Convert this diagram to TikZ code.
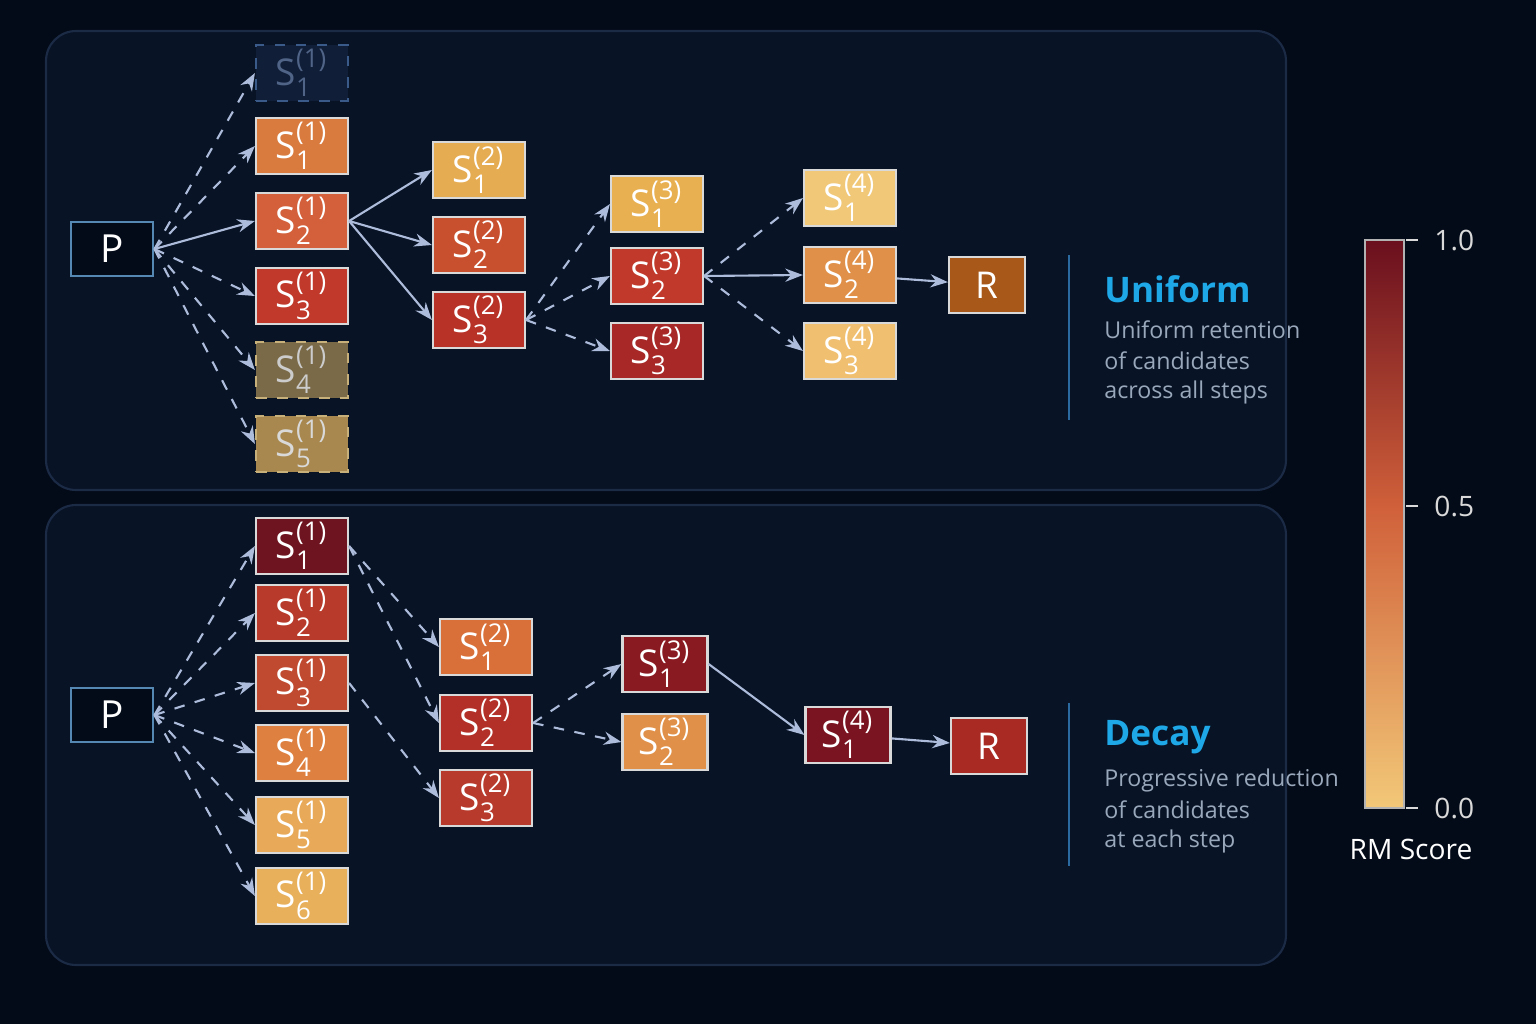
\documentclass[tikz,border=0pt]{standalone}
\usepackage{amsmath}
\usepackage{fontspec}
\setmainfont{Open Sans}
\usetikzlibrary{arrows.meta}
\usetikzlibrary{positioning}

\definecolor{bgc}{HTML}{040B18}
\definecolor{panelc}{HTML}{081326}
\definecolor{panelb}{HTML}{1B2A45}
\definecolor{arrc}{HTML}{AEBCDB}
\definecolor{accent}{HTML}{1EA8E8}
\definecolor{greyt}{HTML}{9AA8BC}
\definecolor{sepc}{HTML}{2A6AA0}
\definecolor{ghostb}{HTML}{3A5A8A}
\definecolor{ghostf}{HTML}{101E38}
\definecolor{ghostt}{HTML}{506487}
\definecolor{tanb}{HTML}{C8B07A}

\newcommand{\stp}[2]{S$^{\textrm{(#1)}}_{\textrm{#2}}$}

\tikzset{
  box/.style={draw=white!85!black, line width=0.6pt, minimum width=0.92cm,
    minimum height=0.56cm, inner sep=0pt, text=white, font=\fontsize{10.5}{12}\selectfont},
  pnode/.style={draw=sepc!80!white, fill=bgc, line width=0.8pt, minimum width=0.82cm,
    minimum height=0.54cm, text=white, font=\fontsize{11}{13}\selectfont},
  ghost/.style={box, dashed, draw=#1},
  panel/.style={fill=panelc, draw=panelb, rounded corners=0.3cm, line width=0.6pt},
  go/.style={-{Stealth[length=5pt]}, draw=arrc, line width=0.6pt},
  maybe/.style={go, dashed},
  title/.style={anchor=west, text=accent, font=\normalsize\bfseries},
  note/.style={anchor=west, text=greyt, font=\fontsize{6.6}{8}\selectfont}
}

\begin{document}
\begin{tikzpicture}[x=0.01cm, y=-0.01cm]
  \useasboundingbox (0,0) rectangle (1536,1024);
  \fill[bgc] (0,0) rectangle (1536,1024);

  % panels
  \draw[panel] (46,31) rectangle (1286,490);
  \draw[panel] (46,505) rectangle (1286,965);

  % uniform
  \node[pnode] (pa) at (112,249) {P};
  \node[ghost=ghostb, fill=ghostf, text=ghostt] (a10) at (302,73) {\stp{1}{1}};
  \node[box, fill={rgb,255:red,217;green,122;blue,62}] (a11) at (302,146) {\stp{1}{1}};
  \node[box, fill={rgb,255:red,211;green,96;blue,58}] (a12) at (302,221) {\stp{1}{2}};
  \node[box, fill={rgb,255:red,192;green,57;blue,43}] (a13) at (302,296) {\stp{1}{3}};
  \node[ghost=tanb, fill={rgb,255:red,122;green,106;blue,72}, text=white!80!black] (a14) at (302,370) {\stp{1}{4}};
  \node[ghost=tanb, fill={rgb,255:red,168;green,136;blue,78}, text=white!85!black] (a15) at (302,444) {\stp{1}{5}};
  \node[box, fill={rgb,255:red,230;green,172;blue,82}] (a21) at (479,170) {\stp{2}{1}};
  \node[box, fill={rgb,255:red,201;green,80;blue,46}] (a22) at (479,245) {\stp{2}{2}};
  \node[box, fill={rgb,255:red,184;green,50;blue,40}] (a23) at (479,320) {\stp{2}{3}};
  \node[box, fill={rgb,255:red,232;green,176;blue,80}] (a31) at (657,204) {\stp{3}{1}};
  \node[box, fill={rgb,255:red,192;green,57;blue,43}] (a32) at (657,276) {\stp{3}{2}};
  \node[box, fill={rgb,255:red,168;green,40;blue,40}] (a33) at (657,351) {\stp{3}{3}};
  \node[box, fill={rgb,255:red,240;green,200;blue,120}] (a41) at (850,198) {\stp{4}{1}};
  \node[box, fill={rgb,255:red,224;green,144;blue,72}] (a42) at (850,275) {\stp{4}{2}};
  \node[box, fill={rgb,255:red,240;green,192;blue,112}] (a43) at (850,351) {\stp{4}{3}};
  \node[box, fill={rgb,255:red,168;green,88;blue,24}, minimum width=0.76cm] (ra) at (987,285) {R};

  \draw[maybe] (pa.east) -- (a10.west);
  \draw[maybe] (pa.east) -- (a11.west);
  \draw[go] (pa.east) -- (a12.west);
  \foreach \n in {a13,a14,a15} \draw[maybe] (pa.east) -- (\n.west);
  \foreach \n in {a21,a22,a23} \draw[go] (a12.east) -- (\n.west);
  \foreach \n in {a31,a32,a33} \draw[maybe] (a23.east) -- (\n.west);
  \draw[maybe] (a32.east) -- (a41.west);
  \draw[go] (a32.east) -- (a42.west);
  \draw[maybe] (a32.east) -- (a43.west);
  \draw[go] (a42) -- (ra);

  \coordinate (ua) at (1069,255);
  \coordinate (ub) at (1069,420);
  \draw[sepc, line width=0.8pt] (ua) -- (ub);
  \node[title] (ut) at (1092,289) {Uniform};
  \node[note] at (1092,330) {Uniform retention};
  \node[note] at (1092,361) {of candidates};
  \node[note] at (1092,392) {across all steps};

  % decay
  \node[pnode] (pb) at (112,715) {P};
  \node[box, fill={rgb,255:red,110;green,20;blue,32}] (b11) at (302,546) {\stp{1}{1}};
  \node[box, fill={rgb,255:red,184;green,58;blue,42}] (b12) at (302,613) {\stp{1}{2}};
  \node[box, fill={rgb,255:red,192;green,74;blue,48}] (b13) at (302,683) {\stp{1}{3}};
  \node[box, fill={rgb,255:red,221;green,128;blue,64}] (b14) at (302,753) {\stp{1}{4}};
  \node[box, fill={rgb,255:red,232;green,170;blue,88}] (b15) at (302,825) {\stp{1}{5}};
  \node[box, fill={rgb,255:red,232;green,176;blue,90}] (b16) at (302,896) {\stp{1}{6}};
  \node[box, fill={rgb,255:red,217;green,112;blue,58}] (b21) at (486,647) {\stp{2}{1}};
  \node[box, fill={rgb,255:red,178;green,48;blue,40}] (b22) at (486,723) {\stp{2}{2}};
  \node[box, fill={rgb,255:red,184;green,58;blue,44}] (b23) at (486,798) {\stp{2}{3}};
  \node[box, fill={rgb,255:red,138;green,26;blue,34}, minimum width=0.85cm] (b31) at (665,664) {\stp{3}{1}};
  \node[box, fill={rgb,255:red,224;green,144;blue,72}, minimum width=0.85cm] (b32) at (665,742) {\stp{3}{2}};
  \node[box, fill={rgb,255:red,122;green,20;blue,32}, minimum width=0.85cm] (b41) at (848,735) {\stp{4}{1}};
  \node[box, fill={rgb,255:red,168;green,42;blue,34}, minimum width=0.76cm] (rb) at (989,746) {R};

  \foreach \n in {b11,b12,b13,b14,b15,b16} \draw[maybe] (pb.east) -- (\n.west);
  \draw[maybe] (b11.east) -- (b21.west);
  \draw[maybe] (b11.east) -- (b22.west);
  \draw[maybe] (b13.east) -- (b23.west);
  \draw[maybe] (b22.east) -- (b31.west);
  \draw[maybe] (b22.east) -- (b32.west);
  \draw[go] (b31.east) -- (b41.west);
  \draw[go] (b41) -- (rb);

  \coordinate (da) at (1069,703);
  \coordinate (db) at (1069,866);
  \draw[sepc, line width=0.8pt] (da) -- (db);
  \node[title] (dt) at (1092,737) {Decay};
  \node[note] at (1092,780) {Progressive reduction};
  \node[note] at (1092,810) {of candidates};
  \node[note] at (1092,841) {at each step};

  % colour bar
  \shade[bottom color={rgb,255:red,242;green,200;blue,120}, top color={rgb,255:red,208;green,96;blue,58}] (1365,808) rectangle (1404,506);
  \shade[bottom color={rgb,255:red,208;green,96;blue,58}, top color={rgb,255:red,106;green,15;blue,30}] (1365,507) rectangle (1404,240);
  \draw[white!70!black, line width=0.6pt] (1365,240) rectangle (1404,808);
  \foreach \v/\t in {240/1.0, 506/0.5, 808/0.0} {
    \draw[white!85!black, line width=0.6pt] (1406,\v) -- (1418,\v);
    \node[anchor=west, text=white!85!black, font=\footnotesize] at (1422,\v) {\t};
  }
  \node[text=white, font=\footnotesize] (rm) at (1411,849) {RM Score};
\end{tikzpicture}
\end{document}
